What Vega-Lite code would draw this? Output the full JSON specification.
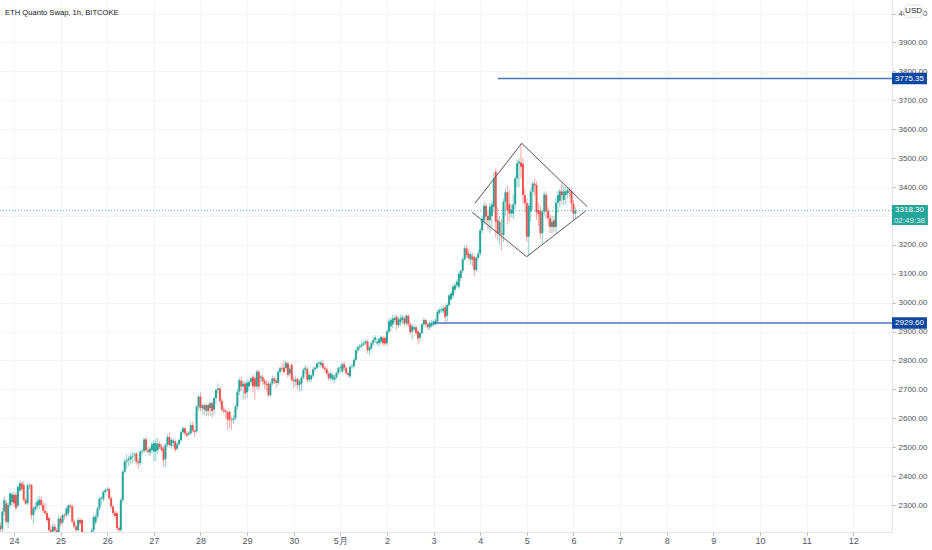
{"$schema":"https://vega.github.io/schema/vega-lite/v6.json","width":892,"height":532,"autosize":"none","padding":{"left":0,"top":0,"right":40,"bottom":18},"background":"white","config":{"view":{"stroke":null},"font":"Liberation Sans"},
"datasets":{"candles":[
{"t":-7,"o":2228,"h":2240,"l":2200,"c":2215},{"t":-6,"o":2218,"h":2290,"l":2205,"c":2277},{"t":-5,"o":2277,"h":2330,"l":2265,"c":2317},{"t":-4,"o":2306,"h":2318,"l":2232,"c":2243},{"t":-3,"o":2240,"h":2310,"l":2220,"c":2300},{"t":-2,"o":2300,"h":2345,"l":2290,"c":2340},{"t":-1,"o":2310,"h":2345,"l":2295,"c":2337},{"t":0,"o":2335,"h":2345,"l":2295,"c":2306},{"t":1,"o":2335,"h":2342,"l":2280,"c":2290},{"t":2,"o":2298,"h":2370,"l":2290,"c":2362},{"t":3,"o":2350,"h":2385,"l":2345,"c":2375},{"t":4,"o":2375,"h":2382,"l":2348,"c":2355},{"t":5,"o":2370,"h":2382,"l":2310,"c":2318},{"t":6,"o":2318,"h":2325,"l":2300,"c":2305},{"t":7,"o":2306,"h":2375,"l":2300,"c":2368},{"t":8,"o":2368,"h":2375,"l":2355,"c":2370},{"t":9,"o":2370,"h":2372,"l":2250,"c":2265},{"t":10,"o":2265,"h":2295,"l":2232,"c":2288},{"t":11,"o":2285,"h":2310,"l":2275,"c":2295},{"t":12,"o":2295,"h":2325,"l":2285,"c":2312},{"t":13,"o":2300,"h":2332,"l":2285,"c":2318},{"t":14,"o":2318,"h":2330,"l":2292,"c":2300},{"t":15,"o":2300,"h":2312,"l":2272,"c":2280},{"t":16,"o":2280,"h":2308,"l":2265,"c":2272},{"t":17,"o":2272,"h":2280,"l":2240,"c":2248},{"t":18,"o":2255,"h":2262,"l":2205,"c":2213},{"t":19,"o":2213,"h":2230,"l":2195,"c":2205},{"t":20,"o":2208,"h":2238,"l":2200,"c":2225},{"t":21,"o":2225,"h":2235,"l":2205,"c":2212},{"t":22,"o":2212,"h":2222,"l":2185,"c":2195},{"t":23,"o":2205,"h":2265,"l":2195,"c":2253},{"t":24,"o":2253,"h":2262,"l":2225,"c":2236},{"t":25,"o":2240,"h":2272,"l":2232,"c":2265},{"t":26,"o":2265,"h":2272,"l":2250,"c":2262},{"t":27,"o":2265,"h":2295,"l":2258,"c":2288},{"t":28,"o":2272,"h":2302,"l":2262,"c":2298},{"t":29,"o":2298,"h":2305,"l":2285,"c":2293},{"t":30,"o":2295,"h":2300,"l":2235,"c":2243},{"t":31,"o":2243,"h":2252,"l":2218,"c":2225},{"t":32,"o":2225,"h":2232,"l":2205,"c":2213},{"t":33,"o":2213,"h":2258,"l":2208,"c":2248},{"t":34,"o":2248,"h":2256,"l":2228,"c":2237},{"t":35,"o":2248,"h":2254,"l":2198,"c":2205},{"t":36,"o":2205,"h":2212,"l":2185,"c":2195},{"t":37,"o":2200,"h":2206,"l":2180,"c":2190},{"t":38,"o":2190,"h":2200,"l":2180,"c":2195},{"t":39,"o":2195,"h":2200,"l":2180,"c":2190},{"t":40,"o":2195,"h":2220,"l":2188,"c":2212},{"t":41,"o":2212,"h":2265,"l":2205,"c":2258},{"t":42,"o":2240,"h":2268,"l":2232,"c":2260},{"t":43,"o":2260,"h":2295,"l":2252,"c":2288},{"t":44,"o":2288,"h":2328,"l":2280,"c":2322},{"t":45,"o":2322,"h":2330,"l":2300,"c":2325},{"t":46,"o":2320,"h":2352,"l":2312,"c":2345},{"t":47,"o":2345,"h":2358,"l":2335,"c":2352},{"t":48,"o":2352,"h":2362,"l":2345,"c":2355},{"t":49,"o":2355,"h":2360,"l":2315,"c":2323},{"t":50,"o":2323,"h":2330,"l":2285,"c":2295},{"t":51,"o":2295,"h":2300,"l":2262,"c":2272},{"t":52,"o":2272,"h":2280,"l":2255,"c":2262},{"t":53,"o":2272,"h":2278,"l":2212,"c":2220},{"t":54,"o":2220,"h":2228,"l":2205,"c":2213},{"t":55,"o":2213,"h":2325,"l":2208,"c":2317},{"t":56,"o":2317,"h":2420,"l":2310,"c":2415},{"t":57,"o":2415,"h":2462,"l":2408,"c":2450},{"t":58,"o":2450,"h":2476,"l":2425,"c":2455},{"t":59,"o":2455,"h":2470,"l":2435,"c":2460},{"t":60,"o":2458,"h":2478,"l":2440,"c":2467},{"t":61,"o":2467,"h":2484,"l":2445,"c":2470},{"t":62,"o":2472,"h":2482,"l":2452,"c":2475},{"t":63,"o":2478,"h":2484,"l":2440,"c":2450},{"t":64,"o":2450,"h":2462,"l":2425,"c":2445},{"t":65,"o":2445,"h":2492,"l":2435,"c":2485},{"t":66,"o":2485,"h":2495,"l":2475,"c":2487},{"t":67,"o":2487,"h":2532,"l":2480,"c":2527},{"t":68,"o":2527,"h":2534,"l":2482,"c":2490},{"t":69,"o":2490,"h":2500,"l":2475,"c":2485},{"t":70,"o":2482,"h":2502,"l":2470,"c":2495},{"t":71,"o":2490,"h":2520,"l":2480,"c":2510},{"t":72,"o":2485,"h":2525,"l":2450,"c":2514},{"t":73,"o":2485,"h":2530,"l":2452,"c":2514},{"t":74,"o":2490,"h":2532,"l":2475,"c":2512},{"t":75,"o":2512,"h":2520,"l":2492,"c":2500},{"t":76,"o":2500,"h":2510,"l":2482,"c":2490},{"t":77,"o":2495,"h":2505,"l":2432,"c":2455},{"t":78,"o":2460,"h":2515,"l":2432,"c":2508},{"t":79,"o":2508,"h":2545,"l":2500,"c":2535},{"t":80,"o":2535,"h":2552,"l":2500,"c":2508},{"t":81,"o":2505,"h":2532,"l":2495,"c":2525},{"t":82,"o":2515,"h":2530,"l":2500,"c":2523},{"t":83,"o":2520,"h":2528,"l":2482,"c":2492},{"t":84,"o":2495,"h":2518,"l":2488,"c":2510},{"t":85,"o":2510,"h":2530,"l":2505,"c":2525},{"t":86,"o":2525,"h":2560,"l":2518,"c":2552},{"t":87,"o":2552,"h":2572,"l":2545,"c":2565},{"t":88,"o":2565,"h":2570,"l":2540,"c":2548},{"t":89,"o":2548,"h":2555,"l":2535,"c":2540},{"t":90,"o":2545,"h":2556,"l":2538,"c":2550},{"t":91,"o":2548,"h":2588,"l":2542,"c":2577},{"t":92,"o":2577,"h":2590,"l":2550,"c":2557},{"t":93,"o":2557,"h":2562,"l":2535,"c":2552},{"t":94,"o":2555,"h":2645,"l":2550,"c":2640},{"t":95,"o":2640,"h":2680,"l":2625,"c":2675},{"t":96,"o":2675,"h":2690,"l":2625,"c":2635},{"t":97,"o":2635,"h":2650,"l":2615,"c":2645},{"t":98,"o":2645,"h":2652,"l":2612,"c":2630},{"t":99,"o":2625,"h":2652,"l":2607,"c":2646},{"t":100,"o":2646,"h":2652,"l":2606,"c":2625},{"t":101,"o":2635,"h":2658,"l":2608,"c":2652},{"t":102,"o":2652,"h":2658,"l":2602,"c":2625},{"t":103,"o":2630,"h":2675,"l":2610,"c":2670},{"t":104,"o":2670,"h":2703,"l":2650,"c":2698},{"t":105,"o":2698,"h":2720,"l":2685,"c":2703},{"t":106,"o":2703,"h":2708,"l":2650,"c":2660},{"t":107,"o":2660,"h":2670,"l":2620,"c":2630},{"t":108,"o":2630,"h":2642,"l":2615,"c":2625},{"t":109,"o":2625,"h":2635,"l":2600,"c":2622},{"t":110,"o":2622,"h":2628,"l":2560,"c":2595},{"t":111,"o":2622,"h":2628,"l":2566,"c":2595},{"t":112,"o":2595,"h":2605,"l":2560,"c":2592},{"t":113,"o":2595,"h":2610,"l":2580,"c":2600},{"t":114,"o":2600,"h":2648,"l":2592,"c":2640},{"t":115,"o":2640,"h":2702,"l":2630,"c":2692},{"t":116,"o":2692,"h":2742,"l":2680,"c":2732},{"t":117,"o":2730,"h":2745,"l":2695,"c":2710},{"t":118,"o":2710,"h":2730,"l":2665,"c":2720},{"t":119,"o":2720,"h":2728,"l":2665,"c":2686},{"t":120,"o":2690,"h":2735,"l":2670,"c":2723},{"t":121,"o":2710,"h":2735,"l":2695,"c":2726},{"t":122,"o":2726,"h":2745,"l":2715,"c":2738},{"t":123,"o":2743,"h":2752,"l":2690,"c":2710},{"t":124,"o":2738,"h":2745,"l":2665,"c":2710},{"t":125,"o":2710,"h":2768,"l":2700,"c":2761},{"t":126,"o":2761,"h":2768,"l":2695,"c":2710},{"t":127,"o":2740,"h":2752,"l":2725,"c":2745},{"t":128,"o":2743,"h":2750,"l":2715,"c":2728},{"t":129,"o":2730,"h":2738,"l":2700,"c":2720},{"t":130,"o":2720,"h":2732,"l":2695,"c":2715},{"t":131,"o":2720,"h":2728,"l":2672,"c":2680},{"t":132,"o":2680,"h":2728,"l":2675,"c":2720},{"t":133,"o":2720,"h":2748,"l":2712,"c":2738},{"t":134,"o":2738,"h":2745,"l":2718,"c":2728},{"t":135,"o":2730,"h":2738,"l":2705,"c":2722},{"t":136,"o":2722,"h":2768,"l":2715,"c":2761},{"t":137,"o":2761,"h":2780,"l":2752,"c":2773},{"t":138,"o":2773,"h":2790,"l":2760,"c":2770},{"t":139,"o":2776,"h":2800,"l":2752,"c":2760},{"t":140,"o":2775,"h":2800,"l":2765,"c":2792},{"t":141,"o":2790,"h":2796,"l":2740,"c":2750},{"t":142,"o":2755,"h":2785,"l":2745,"c":2772},{"t":143,"o":2785,"h":2792,"l":2725,"c":2733},{"t":144,"o":2733,"h":2745,"l":2705,"c":2728},{"t":145,"o":2727,"h":2745,"l":2712,"c":2735},{"t":146,"o":2735,"h":2742,"l":2700,"c":2715},{"t":147,"o":2715,"h":2735,"l":2692,"c":2727},{"t":148,"o":2720,"h":2748,"l":2695,"c":2741},{"t":149,"o":2741,"h":2775,"l":2735,"c":2768},{"t":150,"o":2768,"h":2785,"l":2755,"c":2775},{"t":151,"o":2770,"h":2778,"l":2722,"c":2733},{"t":152,"o":2733,"h":2758,"l":2725,"c":2750},{"t":153,"o":2735,"h":2755,"l":2725,"c":2748},{"t":154,"o":2748,"h":2778,"l":2740,"c":2770},{"t":155,"o":2770,"h":2782,"l":2762,"c":2775},{"t":156,"o":2775,"h":2795,"l":2768,"c":2790},{"t":157,"o":2790,"h":2798,"l":2775,"c":2793},{"t":158,"o":2785,"h":2800,"l":2775,"c":2793},{"t":159,"o":2790,"h":2800,"l":2768,"c":2775},{"t":160,"o":2775,"h":2782,"l":2760,"c":2770},{"t":161,"o":2770,"h":2776,"l":2748,"c":2755},{"t":162,"o":2755,"h":2762,"l":2730,"c":2738},{"t":163,"o":2738,"h":2762,"l":2730,"c":2755},{"t":164,"o":2735,"h":2756,"l":2728,"c":2750},{"t":165,"o":2733,"h":2750,"l":2722,"c":2742},{"t":166,"o":2742,"h":2762,"l":2735,"c":2756},{"t":167,"o":2756,"h":2780,"l":2750,"c":2773},{"t":168,"o":2773,"h":2782,"l":2760,"c":2776},{"t":169,"o":2762,"h":2795,"l":2755,"c":2787},{"t":170,"o":2787,"h":2795,"l":2765,"c":2773},{"t":171,"o":2773,"h":2780,"l":2750,"c":2756},{"t":172,"o":2756,"h":2764,"l":2742,"c":2750},{"t":173,"o":2745,"h":2785,"l":2738,"c":2778},{"t":174,"o":2778,"h":2790,"l":2770,"c":2780},{"t":175,"o":2780,"h":2810,"l":2772,"c":2802},{"t":176,"o":2802,"h":2840,"l":2795,"c":2835},{"t":177,"o":2835,"h":2852,"l":2825,"c":2846},{"t":178,"o":2846,"h":2858,"l":2835,"c":2850},{"t":179,"o":2850,"h":2870,"l":2842,"c":2855},{"t":180,"o":2855,"h":2868,"l":2848,"c":2860},{"t":181,"o":2860,"h":2874,"l":2852,"c":2866},{"t":182,"o":2866,"h":2872,"l":2825,"c":2835},{"t":183,"o":2835,"h":2852,"l":2818,"c":2845},{"t":184,"o":2842,"h":2868,"l":2835,"c":2860},{"t":185,"o":2860,"h":2882,"l":2852,"c":2871},{"t":186,"o":2871,"h":2888,"l":2862,"c":2880},{"t":187,"o":2859,"h":2875,"l":2850,"c":2865},{"t":188,"o":2860,"h":2880,"l":2848,"c":2875},{"t":189,"o":2865,"h":2888,"l":2855,"c":2882},{"t":190,"o":2878,"h":2884,"l":2850,"c":2860},{"t":191,"o":2878,"h":2884,"l":2850,"c":2858},{"t":192,"o":2860,"h":2908,"l":2852,"c":2900},{"t":193,"o":2900,"h":2945,"l":2892,"c":2935},{"t":194,"o":2918,"h":2948,"l":2900,"c":2940},{"t":195,"o":2925,"h":2958,"l":2912,"c":2945},{"t":196,"o":2940,"h":2956,"l":2930,"c":2948},{"t":197,"o":2951,"h":2958,"l":2905,"c":2922},{"t":198,"o":2922,"h":2950,"l":2912,"c":2942},{"t":199,"o":2932,"h":2958,"l":2920,"c":2945},{"t":200,"o":2940,"h":2958,"l":2925,"c":2950},{"t":201,"o":2945,"h":2952,"l":2918,"c":2928},{"t":202,"o":2928,"h":2960,"l":2920,"c":2955},{"t":203,"o":2955,"h":2958,"l":2915,"c":2925},{"t":204,"o":2925,"h":2935,"l":2888,"c":2898},{"t":205,"o":2900,"h":2925,"l":2872,"c":2918},{"t":206,"o":2908,"h":2925,"l":2900,"c":2915},{"t":207,"o":2915,"h":2920,"l":2885,"c":2895},{"t":208,"o":2900,"h":2906,"l":2855,"c":2876},{"t":209,"o":2878,"h":2900,"l":2865,"c":2895},{"t":210,"o":2895,"h":2930,"l":2888,"c":2925},{"t":211,"o":2925,"h":2948,"l":2915,"c":2940},{"t":212,"o":2940,"h":2946,"l":2915,"c":2925},{"t":213,"o":2925,"h":2932,"l":2905,"c":2915},{"t":214,"o":2915,"h":2938,"l":2905,"c":2930},{"t":215,"o":2920,"h":2940,"l":2912,"c":2930},{"t":216,"o":2925,"h":2942,"l":2918,"c":2935},{"t":217,"o":2925,"h":2945,"l":2920,"c":2938},{"t":218,"o":2935,"h":2975,"l":2928,"c":2968},{"t":219,"o":2965,"h":2982,"l":2958,"c":2975},{"t":220,"o":2975,"h":2985,"l":2965,"c":2978},{"t":221,"o":2970,"h":2990,"l":2962,"c":2980},{"t":222,"o":2984,"h":2990,"l":2925,"c":2950},{"t":223,"o":2955,"h":2998,"l":2935,"c":2992},{"t":224,"o":2992,"h":3030,"l":2985,"c":3025},{"t":225,"o":3012,"h":3040,"l":3005,"c":3032},{"t":226,"o":3025,"h":3062,"l":3015,"c":3055},{"t":227,"o":3045,"h":3068,"l":3035,"c":3060},{"t":228,"o":3060,"h":3080,"l":3050,"c":3072},{"t":229,"o":3055,"h":3105,"l":3048,"c":3100},{"t":230,"o":3085,"h":3115,"l":3075,"c":3110},{"t":231,"o":3110,"h":3158,"l":3102,"c":3150},{"t":232,"o":3150,"h":3198,"l":3145,"c":3188},{"t":233,"o":3188,"h":3200,"l":3155,"c":3165},{"t":234,"o":3170,"h":3182,"l":3145,"c":3155},{"t":235,"o":3150,"h":3178,"l":3130,"c":3168},{"t":236,"o":3160,"h":3172,"l":3125,"c":3148},{"t":237,"o":3158,"h":3165,"l":3090,"c":3113},{"t":238,"o":3113,"h":3162,"l":3105,"c":3155},{"t":239,"o":3155,"h":3185,"l":3145,"c":3170},{"t":240,"o":3170,"h":3258,"l":3162,"c":3250},{"t":241,"o":3250,"h":3300,"l":3240,"c":3290},{"t":242,"o":3285,"h":3350,"l":3270,"c":3335},{"t":243,"o":3335,"h":3345,"l":3270,"c":3298},{"t":244,"o":3300,"h":3320,"l":3250,"c":3285},{"t":245,"o":3285,"h":3345,"l":3240,"c":3332},{"t":246,"o":3300,"h":3350,"l":3260,"c":3340},{"t":247,"o":3332,"h":3450,"l":3310,"c":3430},{"t":248,"o":3453,"h":3465,"l":3225,"c":3280},{"t":249,"o":3285,"h":3330,"l":3215,"c":3240},{"t":250,"o":3240,"h":3300,"l":3200,"c":3280},{"t":251,"o":3240,"h":3290,"l":3182,"c":3235},{"t":252,"o":3234,"h":3360,"l":3210,"c":3349},{"t":253,"o":3349,"h":3395,"l":3300,"c":3382},{"t":254,"o":3382,"h":3405,"l":3270,"c":3320},{"t":255,"o":3340,"h":3390,"l":3280,"c":3308},{"t":256,"o":3308,"h":3340,"l":3295,"c":3322},{"t":257,"o":3308,"h":3375,"l":3290,"c":3340},{"t":258,"o":3340,"h":3440,"l":3325,"c":3430},{"t":259,"o":3430,"h":3495,"l":3400,"c":3482},{"t":260,"o":3482,"h":3498,"l":3400,"c":3488},{"t":261,"o":3485,"h":3551,"l":3430,"c":3470},{"t":262,"o":3480,"h":3500,"l":3340,"c":3372},{"t":263,"o":3372,"h":3395,"l":3310,"c":3345},{"t":264,"o":3345,"h":3360,"l":3210,"c":3228},{"t":265,"o":3228,"h":3345,"l":3160,"c":3335},{"t":266,"o":3315,"h":3395,"l":3280,"c":3384},{"t":267,"o":3384,"h":3420,"l":3320,"c":3412},{"t":268,"o":3412,"h":3432,"l":3370,"c":3405},{"t":269,"o":3407,"h":3420,"l":3285,"c":3312},{"t":270,"o":3320,"h":3345,"l":3265,"c":3305},{"t":271,"o":3318,"h":3335,"l":3222,"c":3240},{"t":272,"o":3240,"h":3325,"l":3205,"c":3315},{"t":273,"o":3315,"h":3385,"l":3300,"c":3375},{"t":274,"o":3372,"h":3382,"l":3290,"c":3315},{"t":275,"o":3318,"h":3330,"l":3265,"c":3292},{"t":276,"o":3292,"h":3305,"l":3240,"c":3262},{"t":277,"o":3262,"h":3300,"l":3240,"c":3280},{"t":278,"o":3285,"h":3300,"l":3245,"c":3262},{"t":279,"o":3262,"h":3360,"l":3240,"c":3345},{"t":280,"o":3345,"h":3388,"l":3310,"c":3372},{"t":281,"o":3352,"h":3395,"l":3330,"c":3385},{"t":282,"o":3385,"h":3415,"l":3340,"c":3372},{"t":283,"o":3355,"h":3405,"l":3335,"c":3385},{"t":284,"o":3372,"h":3400,"l":3340,"c":3385},{"t":285,"o":3378,"h":3400,"l":3360,"c":3390},{"t":286,"o":3388,"h":3398,"l":3365,"c":3385},{"t":287,"o":3385,"h":3392,"l":3315,"c":3343},{"t":288,"o":3343,"h":3355,"l":3285,"c":3308},{"t":289,"o":3308,"h":3330,"l":3290,"c":3318.3}
],"levels":[{"price":3775.35,"label":"3775.35"},{"price":2929.6,"label":"2929.60"}],"diamond":[{"seg":"upper","t":237.3,"p":3343.7,"n":1},{"seg":"upper","t":261.4,"p":3551.3,"n":2},{"seg":"upper","t":295.1,"p":3332,"n":3},{"seg":"lower","t":235.9,"p":3312.6,"n":1},{"seg":"lower","t":263.9,"p":3159,"n":2},{"seg":"lower","t":294.3,"p":3317,"n":3}]},
"layer":[
{"data":{"name":"candles"},"mark":{"type":"rule","strokeWidth":1,"opacity":0.5,"clip":true},"encoding":{
"x":{"field":"t","type":"quantitative","scale":{"domain":[-7.2,452],"nice":false,"zero":false},"axis":{"orient":"bottom","tickCount":30,"values":[0,24,48,72,96,120,144,168,192,216,240,264,288,312,336,360,384,408,432],"labelExpr":"datum.value==168?'5月':datum.value<168?''+(24+datum.value/24):''+(1+(datum.value-168)/24)","title":null,"grid":true,"gridColor":"#f3f5fa","domain":true,"domainColor":"#e0e3eb","tickColor":"#b2b5be","tickSize":3,"labelPadding":1,"labelFontSize":9,"labelColor":"#50535e","labelOverlap":false,"labelFont":"Liberation Sans"}},
"y":{"field":"l","type":"quantitative","scale":{"domain":[2206.6,4047],"nice":false,"zero":false},"title":null,"axis":{"orient":"right","tickCount":30,"values":[2300,2400,2500,2600,2700,2800,2900,3000,3100,3200,3300,3400,3500,3600,3700,3800,3900,4000],"format":".2f","grid":true,"gridColor":"#f3f5fa","gridWidth":1,"domain":true,"domainColor":"#e0e3eb","tickColor":"#b2b5be","tickSize":3,"labelPadding":3,"labelFontSize":8,"labelColor":"#50535e","labelOverlap":false,"labelFont":"Liberation Sans"}},
"y2":{"field":"h"},"color":{"condition":{"test":"datum.c>=datum.o","value":"#26a69a"},"value":"#ef5350"}}},
{"data":{"name":"candles"},"mark":{"type":"rule","strokeWidth":2,"clip":true},"encoding":{"x":{"field":"t","type":"quantitative"},"y":{"field":"o","type":"quantitative"},"y2":{"field":"c"},"color":{"condition":{"test":"datum.c>=datum.o","value":"#26a69a"},"value":"#ef5350"}}},
{"data":{"values":[{"p":3318.3}]},"mark":{"type":"rule","color":"#26a69a","strokeDash":[1,2],"strokeWidth":1,"opacity":0.8},"encoding":{"y":{"field":"p","type":"quantitative"}}},
{"data":{"name":"diamond"},"mark":{"type":"line","color":"#555555","strokeWidth":1},"encoding":{"x":{"field":"t","type":"quantitative"},"y":{"field":"p","type":"quantitative"},"detail":{"field":"seg"},"order":{"field":"n"}}},
{"data":{"values":[{"start":249.2,"price":3775.35},{"start":215.7,"price":2929.6}]},"mark":{"type":"rule","color":"#4a78bd","strokeWidth":1.5},"encoding":{"x":{"field":"start","type":"quantitative"},"x2":{"datum":452},"y":{"field":"price","type":"quantitative"}}},
{"data":{"name":"levels"},"mark":{"type":"rule","color":"#0d47a1","strokeWidth":11.5},"encoding":{"x":{"datum":452,"type":"quantitative","scale":{"domain":[-7.2,452],"nice":false,"zero":false}},"x2":{"datum":470},"y":{"field":"price","type":"quantitative"}}},
{"data":{"name":"levels"},"mark":{"type":"text","color":"white","fontSize":8,"align":"center","baseline":"middle"},"encoding":{"x":{"datum":461,"type":"quantitative","scale":{"domain":[-7.2,452],"nice":false,"zero":false}},"y":{"field":"price","type":"quantitative"},"text":{"field":"label"}}},
{"data":{"values":[{"p":3303}]},"mark":{"type":"rule","color":"#26a69a","strokeWidth":20},"encoding":{"x":{"datum":452,"type":"quantitative","scale":{"domain":[-7.2,452],"nice":false,"zero":false}},"x2":{"datum":470.5},"y":{"field":"p","type":"quantitative"}}},
{"data":{"values":[{"p":3322,"label":"3318.30","o":1},{"p":3283,"label":"02:49:38","o":0.8}]},"mark":{"type":"text","color":"white","fontSize":8,"align":"center","baseline":"middle"},"encoding":{"x":{"datum":461,"type":"quantitative","scale":{"domain":[-7.2,452],"nice":false,"zero":false}},"y":{"field":"p","type":"quantitative"},"text":{"field":"label"},"opacity":{"field":"o","type":"quantitative","scale":null}}},
{"data":{"values":[{"a":4029.6,"b":3986}]},"mark":{"type":"rect","fill":"white","stroke":"#e0e3eb","cornerRadius":5},"encoding":{"x":{"datum":458.2,"type":"quantitative","scale":{"domain":[-7.2,452],"nice":false,"zero":false}},"x2":{"datum":468},"y":{"field":"a","type":"quantitative"},"y2":{"field":"b"}}},
{"data":{"values":[{"p":4008,"label":"USD"}]},"mark":{"type":"text","color":"#131722","fontSize":8,"align":"center","baseline":"middle"},"encoding":{"x":{"datum":463.1,"type":"quantitative","scale":{"domain":[-7.2,452],"nice":false,"zero":false}},"y":{"field":"p","type":"quantitative"},"text":{"field":"label"}}},
{"data":{"values":[{"p":4002,"t":-4.6,"label":"ETH Quanto Swap, 1h, BITCOKE"}]},"mark":{"type":"text","color":"#131722","fontSize":7.6,"align":"left","baseline":"middle"},"encoding":{"x":{"field":"t","type":"quantitative"},"y":{"field":"p","type":"quantitative"},"text":{"field":"label"}}}
]}
